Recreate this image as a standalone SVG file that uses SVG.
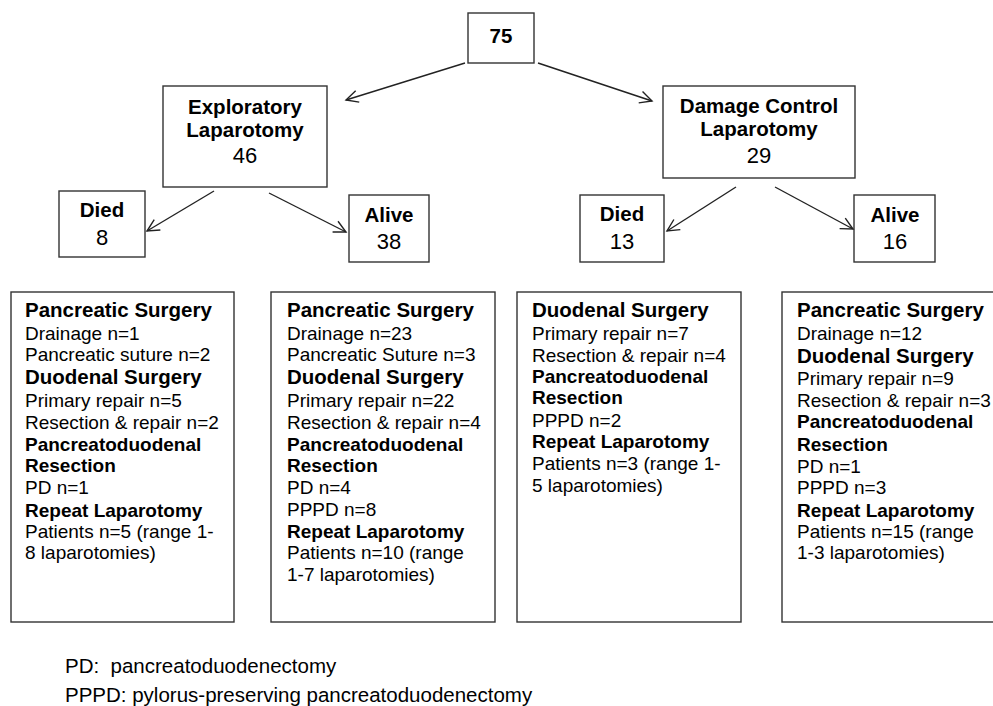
<svg xmlns="http://www.w3.org/2000/svg" width="993" height="706" viewBox="0 0 993 706">
<style>
text { font-family: "Liberation Sans", Arial, sans-serif; fill: #000; }
.box { fill: #fff; stroke: #333; stroke-width: 1.4; }
.lab { font-weight: bold; font-size: 20.5px; text-anchor: middle; }
.num { font-size: 22px; text-anchor: middle; }
.h1 { font-weight: bold; font-size: 20.5px; }
.h2 { font-weight: bold; font-size: 19px; }
.t { font-size: 19px; }
.foot { font-size: 20.5px; }
.conn line { stroke: #222; stroke-width: 1.4; fill: none; marker-end: url(#arr); }
</style>
<defs>
<marker id="arr" markerUnits="userSpaceOnUse" markerWidth="16" markerHeight="16" refX="13" refY="7" orient="auto">
<path d="M1,1 L13,7 L1,13" fill="none" stroke="#222" stroke-width="1.4"/>
</marker>
</defs>
<rect width="993" height="706" fill="#fff"/>

<g id="n75">
<rect class="box" x="468" y="13" width="66" height="50"/>
<text class="lab" x="501" y="43">75</text>
</g>

<g id="exploratory">
<rect class="box" x="163" y="86" width="164" height="101"/>
<text class="lab" x="245" y="114">Exploratory</text>
<text class="lab" x="245" y="137">Laparotomy</text>
<text class="num" x="245" y="163">46</text>
</g>

<g id="damage">
<rect class="box" x="663" y="86" width="192" height="92"/>
<text class="lab" x="759" y="113">Damage Control</text>
<text class="lab" x="759" y="136">Laparotomy</text>
<text class="num" x="759" y="163">29</text>
</g>

<g id="died1">
<rect class="box" x="59" y="191" width="86" height="66"/>
<text class="lab" x="102" y="217">Died</text>
<text class="num" x="102" y="245">8</text>
</g>

<g id="alive1">
<rect class="box" x="349" y="195" width="80" height="67"/>
<text class="lab" x="389" y="222">Alive</text>
<text class="num" x="389" y="249">38</text>
</g>

<g id="died2">
<rect class="box" x="580" y="195" width="84" height="67"/>
<text class="lab" x="622" y="221">Died</text>
<text class="num" x="622" y="249">13</text>
</g>

<g id="alive2">
<rect class="box" x="854" y="195" width="81" height="67"/>
<text class="lab" x="895" y="222">Alive</text>
<text class="num" x="895" y="249">16</text>
</g>

<g id="detail1">
<rect class="box" x="11" y="292" width="223" height="330"/>
<text class="h1" x="25" y="317">Pancreatic Surgery</text>
<text class="t" x="25" y="340">Drainage n=1</text>
<text class="t" x="25" y="361">Pancreatic suture n=2</text>
<text class="h1" x="25" y="384">Duodenal Surgery</text>
<text class="t" x="25" y="407">Primary repair n=5</text>
<text class="t" x="25" y="429">Resection &amp; repair n=2</text>
<text class="h2" x="25" y="451">Pancreatoduodenal</text>
<text class="h2" x="25" y="472">Resection</text>
<text class="t" x="25" y="494">PD n=1</text>
<text class="h2" x="25" y="517">Repeat Laparotomy</text>
<text class="t" x="25" y="538">Patients n=5 (range 1-</text>
<text class="t" x="25" y="559">8 laparotomies)</text>
</g>

<g id="detail2">
<rect class="box" x="271" y="292" width="224" height="330"/>
<text class="h1" x="287" y="317">Pancreatic Surgery</text>
<text class="t" x="287" y="340">Drainage n=23</text>
<text class="t" x="287" y="361">Pancreatic Suture n=3</text>
<text class="h1" x="287" y="384">Duodenal Surgery</text>
<text class="t" x="287" y="407">Primary repair n=22</text>
<text class="t" x="287" y="429">Resection &amp; repair n=4</text>
<text class="h2" x="287" y="451">Pancreatoduodenal</text>
<text class="h2" x="287" y="472">Resection</text>
<text class="t" x="287" y="494">PD n=4</text>
<text class="t" x="287" y="516">PPPD n=8</text>
<text class="h2" x="287" y="538">Repeat Laparotomy</text>
<text class="t" x="287" y="559">Patients n=10 (range</text>
<text class="t" x="287" y="581">1-7 laparotomies)</text>
</g>

<g id="detail3">
<rect class="box" x="517" y="292" width="224" height="330"/>
<text class="h1" x="532" y="317">Duodenal Surgery</text>
<text class="t" x="532" y="340">Primary repair n=7</text>
<text class="t" x="532" y="362">Resection &amp; repair n=4</text>
<text class="h2" x="532" y="383">Pancreatoduodenal</text>
<text class="h2" x="532" y="404">Resection</text>
<text class="t" x="532" y="427">PPPD n=2</text>
<text class="h2" x="532" y="448">Repeat Laparotomy</text>
<text class="t" x="532" y="470">Patients n=3 (range 1-</text>
<text class="t" x="532" y="492">5 laparotomies)</text>
</g>

<g id="detail4">
<rect class="box" x="782" y="292" width="230" height="330"/>
<text class="h1" x="797" y="317">Pancreatic Surgery</text>
<text class="t" x="797" y="340">Drainage n=12</text>
<text class="h1" x="797" y="363">Duodenal Surgery</text>
<text class="t" x="797" y="385">Primary repair n=9</text>
<text class="t" x="797" y="407">Resection &amp; repair n=3</text>
<text class="h2" x="797" y="428">Pancreatoduodenal</text>
<text class="h2" x="797" y="451">Resection</text>
<text class="t" x="797" y="473">PD n=1</text>
<text class="t" x="797" y="494">PPPD n=3</text>
<text class="h2" x="797" y="517">Repeat Laparotomy</text>
<text class="t" x="797" y="538">Patients n=15 (range</text>
<text class="t" x="797" y="559">1-3 laparotomies)</text>
</g>

<g id="connectors" class="conn">
<line x1="465" y1="63" x2="346" y2="100"/>
<line x1="538" y1="63" x2="652" y2="101"/>
<line x1="214" y1="191" x2="147" y2="231"/>
<line x1="269" y1="193" x2="346" y2="232"/>
<line x1="736" y1="187" x2="667" y2="231"/>
<line x1="775" y1="187" x2="853" y2="229"/>
</g>

<g id="legend">
<text class="foot" x="65" y="673" xml:space="preserve">PD:  pancreatoduodenectomy</text>
<text class="foot" x="65" y="702">PPPD: pylorus-preserving pancreatoduodenectomy</text>
</g>
</svg>
